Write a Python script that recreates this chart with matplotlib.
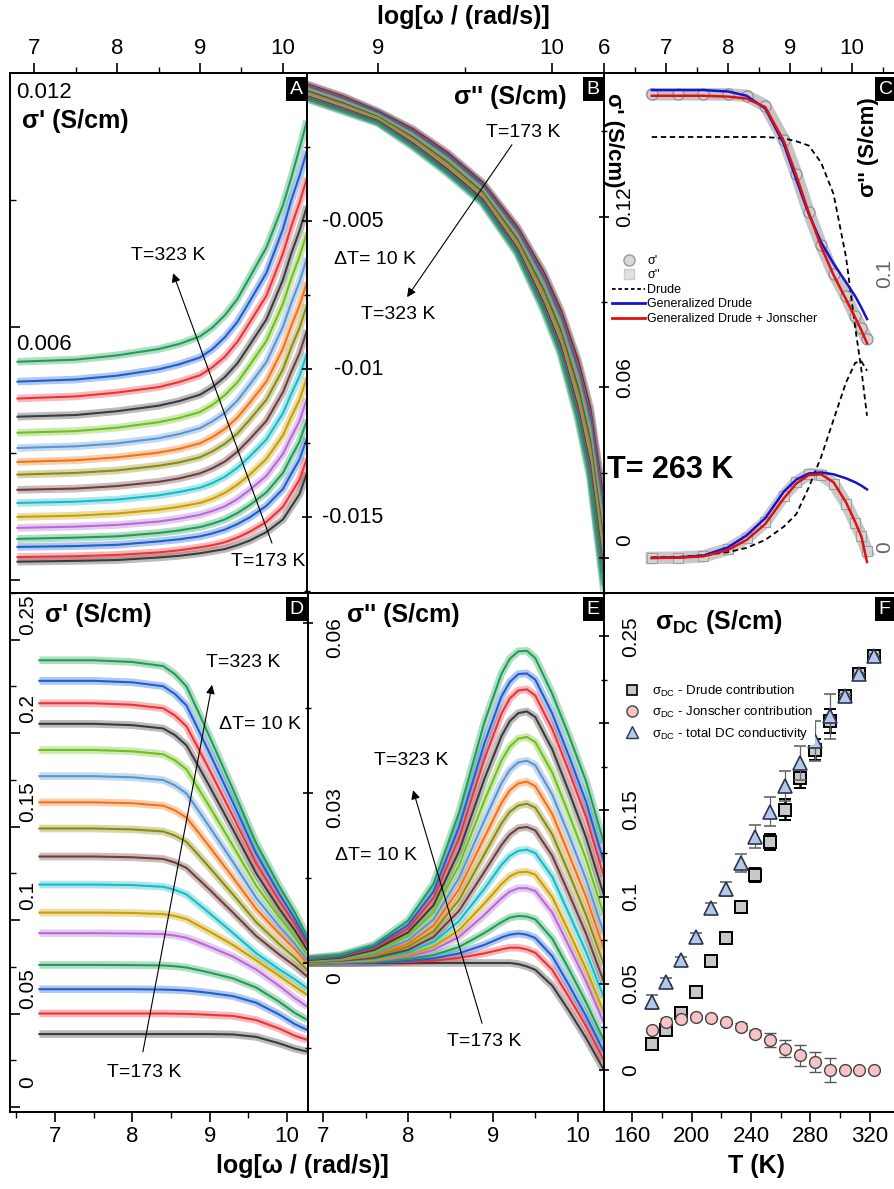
import numpy as np
import matplotlib
matplotlib.use("Agg")
import matplotlib.pyplot as plt
import matplotlib.transforms as mtransforms
from matplotlib import font_manager
from matplotlib.lines import Line2D
from matplotlib.ticker import MultipleLocator

# ---------------- data ----------------
TEMPS = [173, 183, 193, 203, 213, 223, 233, 243, 253, 263, 273, 283, 293, 303, 313, 323]
CURVE_COLORS = ["#3c3c3c", "#e8353a", "#1f5fd0", "#1f9e58", "#b86ad8", "#c9a000",
                "#16bcc6", "#6e3f3f", "#8c8c12", "#f07418", "#5a96d2", "#70c020",
                "#3c3c3c", "#e8353a", "#1f5fd0", "#1f9e58"]

# panel A: sigma' (low range), units of 1e-4 S/cm, one row per temperature (173 K first)
A_LOGW = [6.8, 7.5, 8.0, 8.5, 8.75, 9.0, 9.15, 9.3, 9.45, 9.6, 9.8, 10.0, 10.1, 10.2, 10.29]
A_SIG1 = [
    [4.4, 4.6, 4.8, 5.4, 5.8, 6.4, 6.9, 7.4, 8.3, 9.4, 11.4, 14.4, 17.4, 20.4, 25.4],
    [5.5, 5.7, 6.0, 6.6, 7.1, 7.8, 8.3, 9.0, 10.1, 11.5, 13.8, 17.4, 20.6, 23.8, 28.9],
    [7.9, 8.1, 8.4, 9.2, 9.7, 10.4, 11.1, 12.0, 13.3, 14.9, 17.6, 21.6, 25.2, 28.6, 33.7],
    [9.8, 10.1, 10.4, 11.2, 11.8, 12.6, 13.4, 14.4, 15.9, 17.8, 20.8, 25.4, 29.2, 32.8, 38.0],
    [12.4, 12.7, 13.1, 13.9, 14.6, 15.5, 16.4, 17.5, 19.2, 21.4, 24.7, 29.9, 33.9, 37.7, 43.0],
    [15.0, 15.3, 15.8, 16.7, 17.4, 18.3, 19.3, 20.7, 22.6, 25.0, 28.7, 34.3, 38.7, 42.7, 48.0],
    [18.3, 18.6, 19.1, 20.1, 20.9, 21.9, 23.0, 24.5, 26.6, 29.3, 33.3, 39.5, 44.1, 48.3, 53.7],
    [21.4, 21.7, 22.3, 23.3, 24.1, 25.3, 26.5, 28.1, 30.4, 33.4, 37.7, 44.5, 49.3, 53.7, 59.2],
    [25.0, 25.4, 26.0, 27.1, 27.9, 29.1, 30.5, 32.3, 34.7, 38.0, 42.7, 49.9, 55.1, 59.7, 65.2],
    [28.0, 28.4, 29.1, 30.2, 31.1, 32.4, 33.9, 35.8, 38.5, 42.0, 47.0, 54.8, 60.2, 65.0, 70.6],
    [31.3, 31.7, 32.4, 33.6, 34.6, 36.0, 37.6, 39.6, 42.5, 46.3, 51.6, 60.0, 65.6, 70.6, 76.3],
    [34.9, 35.3, 36.1, 37.4, 38.4, 39.8, 41.5, 43.8, 46.8, 50.9, 56.6, 65.4, 71.4, 76.6, 82.3],
    [38.7, 39.1, 40.0, 41.3, 42.4, 43.9, 45.7, 48.1, 51.3, 55.7, 61.7, 71.1, 77.3, 82.7, 88.5],
    [43.0, 43.5, 44.4, 45.7, 46.9, 48.5, 50.4, 52.9, 56.4, 61.0, 67.3, 77.3, 83.7, 89.3, 95.2],
    [47.0, 47.5, 48.4, 49.9, 51.1, 52.7, 54.7, 57.5, 61.1, 66.0, 72.7, 83.1, 89.9, 95.7, 101.6],
    [51.7, 52.2, 53.2, 54.7, 55.9, 57.7, 59.8, 62.7, 66.5, 71.7, 78.7, 88.7, 95.2, 102.2, 108.7],
]

# panel B: sigma'' (high freq), units of 1e-4 S/cm
B_LOGW = [8.55, 8.8, 9.0, 9.2, 9.4, 9.6, 9.8, 9.95, 10.05, 10.15, 10.22, 10.3]
B_SIG2 = [
    [-3.0, -8.0, -13.0, -19.0, -27.0, -37.0, -52.0, -67.0, -80.0, -97.0, -113.0, -145.0],
    [-3.3, -8.3, -13.3, -19.4, -27.5, -37.5, -52.6, -67.9, -81.0, -98.3, -114.6, -147.0],
    [-3.7, -8.7, -13.5, -19.8, -27.9, -37.9, -53.2, -68.7, -82.0, -99.7, -116.2, -149.0],
    [-4.0, -9.0, -13.8, -20.2, -28.4, -38.4, -53.8, -69.6, -83.0, -101.0, -117.8, -151.0],
    [-4.3, -9.3, -14.1, -20.6, -28.9, -38.9, -54.4, -70.5, -84.0, -102.3, -119.4, -153.0],
    [-4.7, -9.7, -14.3, -21.0, -29.3, -39.3, -55.0, -71.3, -85.0, -103.7, -121.0, -155.0],
    [-5.0, -10.0, -14.6, -21.4, -29.8, -39.8, -55.6, -72.2, -86.0, -105.0, -122.6, -157.0],
    [-5.3, -10.3, -14.9, -21.8, -30.3, -40.3, -56.2, -73.1, -87.0, -106.3, -124.2, -159.0],
    [-5.7, -10.7, -15.1, -22.2, -30.7, -40.7, -56.8, -73.9, -88.0, -107.7, -125.8, -161.0],
    [-6.0, -11.0, -15.4, -22.6, -31.2, -41.2, -57.4, -74.8, -89.0, -109.0, -127.4, -163.0],
    [-6.3, -11.3, -15.7, -23.0, -31.7, -41.7, -58.0, -75.7, -90.0, -110.3, -129.0, -165.0],
    [-6.7, -11.7, -15.9, -23.4, -32.1, -42.1, -58.6, -76.5, -91.0, -111.7, -130.6, -167.0],
    [-7.0, -12.0, -16.2, -23.8, -32.6, -42.6, -59.2, -77.4, -92.0, -113.0, -132.2, -169.0],
    [-7.3, -12.3, -16.5, -24.2, -33.1, -43.1, -59.8, -78.3, -93.0, -114.3, -133.8, -171.0],
    [-7.7, -12.7, -16.7, -24.6, -33.5, -43.5, -60.4, -79.1, -94.0, -115.7, -135.4, -173.0],
    [-8.0, -13.0, -17.0, -25.0, -34.0, -44.0, -61.0, -80.0, -95.0, -117.0, -137.0, -175.0],
]

# panel C: single temperature 263 K
C_LOGW = [6.77, 7.2, 7.6, 8.0, 8.3, 8.6, 8.9, 9.1, 9.3, 9.5, 9.7, 9.9, 10.05, 10.15, 10.24]
C_SIG1_DATA = [.163, .163, .163, .163, .1625, .159, .147, .135, .1215, .110, .100, .092, .085, .081, .077]
C_SIG1_GD = [.1645, .1645, .1645, .164, .1625, .158, .1455, .133, .121, .111, .1035, .097, .092, .088, .084]
C_SIG1_GDJ = [.1625, .1625, .1625, .1622, .1615, .1585, .1465, .1345, .1215, .1095, .0995, .091, .0845, .080, .0755]
C_SIG1_DRUDE = [.148, .148, .148, .148, .148, .148, .1475, .1465, .145, .139, .128, .106, .081, .066, .050]
C_SIG2_DATA = [0, .0001, .0006, .0033, .0075, .0135, .0235, .0285, .0315, .0313, .0280, .0205, .0132, .0082, .0025]
C_SIG2_GD = [0, .0002, .0009, .0040, .0085, .0150, .0250, .0295, .0318, .0322, .0315, .0300, .0285, .0272, .0258]
C_SIG2_GDJ = [0, .0001, .0006, .0030, .0068, .0128, .0225, .0280, .0312, .0315, .0285, .0210, .0135, .0080, -.0015]
C_SIG2_DRUDE = [.0002, .0004, .0010, .0022, .0038, .0068, .0118, .0165, .0265, .038, .052, .066, .0735, .074, .0705]

# panel D: sigma' (full range), S/cm
D_LOGW = [6.8, 7.5, 8.0, 8.4, 8.55, 8.7, 8.85, 9.0, 9.3, 9.6, 9.9, 10.1, 10.26]
D_SIG1 = [
    [.039, .039, .039, .039, .039, .039, .039, .039, .0388, .0375, .034, .0312, .0296],
    [.050, .050, .050, .050, .0499, .0498, .0496, .0493, .0487, .0465, .0419, .0381, .0359],
    [.063, .063, .063, .0628, .0626, .0623, .0617, .061, .0593, .0558, .0494, .0443, .0412],
    [.076, .076, .0759, .0757, .0753, .0746, .0733, .0719, .0688, .0639, .0562, .0503, .0466],
    [.093, .093, .0928, .0925, .0917, .0905, .0882, .0857, .0805, .0735, .0647, .0582, .0537],
    [.104, .104, .1038, .1032, .1022, .1005, .0972, .0938, .0867, .0785, .0701, .0644, .060],
    [.119, .119, .1187, .1178, .1162, .1137, .1087, .1036, .0931, .0823, .0736, .0683, .0635],
    [.134, .134, .1336, .1327, .1308, .1279, .1221, .1162, .104, .0915, .0815, .0754, .0698],
    [.149, .149, .1485, .1474, .1452, .1418, .135, .128, .1137, .0989, .0871, .0799, .0733],
    [.163, .163, .1625, .1612, .1587, .1548, .1471, .1391, .1228, .106, .0926, .0844, .0769],
    [.177, .177, .1764, .1749, .1721, .1677, .1588, .1497, .1311, .1119, .0966, .0873, .0787],
    [.191, .191, .1903, .1887, .1855, .1806, .1707, .1605, .1398, .1184, .1014, .0909, .0814],
    [.205, .205, .2043, .2025, .199, .1935, .1826, .1714, .1485, .125, .106, .0945, .084],
    [.216, .216, .2152, .2133, .2095, .2037, .1921, .1801, .1556, .1304, .1102, .098, .0867],
    [.228, .228, .2272, .2251, .221, .2148, .2022, .1892, .1629, .1357, .1139, .1006, .0885],
    [.239, .239, .2381, .2359, .2316, .225, .2117, .1979, .170, .1412, .1181, .1041, .0912],
]

# panel E: sigma'' (full range), S/cm
E_LOGW = [6.8, 7.2, 7.6, 8.0, 8.3, 8.6, 8.9, 9.1, 9.2, 9.3, 9.4, 9.5, 9.7, 9.9, 10.1, 10.31]
E_SIG2 = [
    [0, 0, 0, 0, 0, 0, 0, 0, 0, -.0002, -.0006, -.0012, -.0040, -.0085, -.0133, -.0189],
    [0, 0, .0001, .0002, .0004, .0009, .0017, .0024, .0027, .0027, .0024, .0018, -.0012, -.0061, -.0112, -.0172],
    [0, 0, .0001, .0004, .0008, .0017, .0032, .0045, .0050, .0052, .0050, .0044, .0012, -.0040, -.0094, -.0157],
    [0, .0001, .0002, .0007, .0014, .0028, .0053, .0072, .0080, .0083, .0082, .0077, .0043, -.0012, -.0070, -.0137],
    [.0001, .0001, .0004, .0011, .0023, .0046, .0085, .0114, .0126, .0132, .0132, .0127, .0089, .0029, -.0033, -.0106],
    [.0001, .0002, .0005, .0014, .0029, .0058, .0105, .0139, .0153, .0160, .0161, .0156, .0116, .0054, -.0011, -.0087],
    [.0001, .0003, .0007, .0019, .0037, .0074, .0131, .0173, .0189, .0198, .0200, .0194, .0152, .0086, .0019, -.0061],
    [.0002, .0004, .0009, .0023, .0046, .0092, .0161, .0208, .0227, .0238, .0240, .0234, .0189, .0121, .0051, -.0034],
    [.0002, .0005, .0012, .0029, .0056, .0111, .0192, .0246, .0267, .0278, .0281, .0274, .0227, .0157, .0084, -.0004],
    [.0003, .0006, .0014, .0034, .0066, .0130, .0222, .0282, .0305, .0317, .0320, .0312, .0263, .0190, .0116, .0024],
    [.0004, .0007, .0016, .0040, .0077, .0150, .0252, .0317, .0341, .0354, .0357, .0349, .0297, .0224, .0147, .0052],
    [.0004, .0008, .0019, .0047, .0089, .0172, .0287, .0357, .0382, .0396, .0399, .0390, .0336, .0261, .0183, .0084],
    [.0005, .0009, .0023, .0054, .0102, .0197, .0325, .0400, .0427, .0441, .0444, .0434, .0377, .0301, .0221, .0119],
    [.0006, .0011, .0026, .0061, .0115, .0220, .0360, .0440, .0467, .0481, .0483, .0472, .0413, .0337, .0257, .0152],
    [.0007, .0012, .0029, .0067, .0126, .0240, .0388, .0470, .0496, .0510, .0511, .0500, .0440, .0364, .0284, .0178],
    [.0008, .0014, .0032, .0075, .0140, .0265, .0425, .0510, .0537, .0550, .0551, .0538, .0475, .0400, .0320, .0211],
]

# panel F: DC conductivity vs temperature
F_DRUDE = [.0154, .0231, .0331, .0452, .0631, .076, .0939, .1126, .1315, .1501, .1684, .1848, .2011, .2159, .2281, .2386]
F_DRUDE_ERR = [.001, .003, .003, .002, .002, .002, .002, .004, .0045, .006, .0055, .006, .007, .0025, .002, .002]
F_JONSCHER = [.0231, .0279, .0298, .0308, .0304, .0279, .025, .0212, .0173, .0125, .0087, .0048, 0, 0, 0, 0]
F_JONSCHER_ERR = [.001, .002, .002, .001, .001, .001, .002, .002, .004, .005, .006, .006, .007, 0, 0, 0]
F_TOTAL = [.0394, .051, .0635, .077, .0933, .1045, .1193, .1347, .1491, .1636, .1771, .1896, .204, .2159, .2281, .2386]
F_TOTAL_ERR = [.0039, .002, .002, .002, .003, .0038, .0052, .0067, .0081, .0087, .0096, .0115, .013, .001, .001, .001]

# ---------------- style ----------------
_have = {f.name for f in font_manager.fontManager.ttflist}
NARROW = "Liberation Sans Narrow" if "Liberation Sans Narrow" in _have else "Liberation Sans"
plt.rcParams["font.family"] = ["Liberation Sans", "DejaVu Sans"]
plt.rcParams["mathtext.fontset"] = "custom"
plt.rcParams["mathtext.rm"] = "Liberation Sans"
plt.rcParams["mathtext.bf"] = "Liberation Sans:bold"
plt.rcParams["mathtext.it"] = "Liberation Sans:italic"
plt.rcParams["axes.linewidth"] = 1.4

W, H = 894, 1189
fig = plt.figure(figsize=(W / 100, H / 100), dpi=100)


def box(l, t, r, b):
    return fig.add_axes([l / W, 1 - b / H, (r - l) / W, (b - t) / H])


axA = box(10, 73, 307, 593)
axB = box(307, 73, 604, 593)
axC = box(604, 73, 903, 593)
axD = box(10, 593, 308, 1112)
axE = box(308, 593, 604, 1112)
axF = box(604, 593, 901, 1112)


def family(ax, x, rows, scale=1.0):
    ys = [np.asarray(r, dtype=float) * scale for r in rows]
    for y, c in zip(ys, CURVE_COLORS):
        ax.plot(x, y, color=c, lw=5.5, alpha=0.35, solid_capstyle="butt", solid_joinstyle="round")
    for y, c in zip(ys, CURVE_COLORS):
        ax.plot(x, y, color=c, lw=1.5, solid_joinstyle="round")


def xticks(ax, where, major, minor, labels=True):
    ax.xaxis.set_major_locator(MultipleLocator(major))
    ax.xaxis.set_minor_locator(MultipleLocator(minor))
    top = where == "top"
    ax.tick_params(axis="x", which="both", top=top, bottom=not top, labeltop=top and labels,
                   labelbottom=(not top) and labels, direction="out")
    ax.tick_params(axis="x", which="major", length=7, width=1.2, labelsize=16, pad=3,
                   labelfontfamily=NARROW)
    ax.tick_params(axis="x", which="minor", length=4, width=1.0)


def yticks(ax, major, minor, direction):
    ax.yaxis.set_major_locator(MultipleLocator(major))
    ax.yaxis.set_minor_locator(MultipleLocator(minor))
    ax.tick_params(axis="y", which="both", left=True, right=False, labelleft=False,
                   direction=direction)
    ax.tick_params(axis="y", which="major", length=7, width=1.2)
    ax.tick_params(axis="y", which="minor", length=4, width=1.0)


def ylab(ax, xfrac, val, text, dy=0, **kw):
    # dy: pixels downward from the tick position
    tr = mtransforms.offset_copy(ax.get_yaxis_transform(), fig=fig, y=-dy * 0.72, units="points")
    ax.text(xfrac, val, text, transform=tr, **kw)


def letter(ax, s, xr=0.985):
    ax.text(xr, 0.985, s, transform=ax.transAxes, ha="right", va="top", color="white",
            fontsize=14, zorder=20,
            bbox=dict(boxstyle="square,pad=0.18", fc="black", ec="none"))


def arrow(ax, tail, head):
    ax.annotate("", xy=head, xytext=tail, xycoords="axes fraction", textcoords="axes fraction",
                arrowprops=dict(arrowstyle="-|>", color="black", lw=0.8, mutation_scale=13,
                                shrinkA=0, shrinkB=0))


def note(ax, x, y, s, **kw):
    kw.setdefault("fontsize", 14)
    ax.text(x, y, s, transform=ax.transAxes, ha="center", va="center", **kw)


# ---------------- A ----------------
family(axA, A_LOGW, A_SIG1, 1e-4)
axA.set_xlim(6.71, 10.29)
axA.set_ylim(-0.0003, 0.012)
xticks(axA, "top", 1, 0.5)
yticks(axA, 0.006, 0.003, "in")
ylab(axA, 0.02, 0.012, "0.012", dy=19, ha="left", va="center", fontsize=16)
ylab(axA, 0.02, 0.006, "0.006", dy=18, ha="left", va="center", fontsize=16)
axA.text(0.04, 0.908, "σ' (S/cm)", transform=axA.transAxes, ha="left", va="center",
         fontsize=18, fontweight="bold")
note(axA, 0.532, 0.650, "T=323 K")
note(axA, 0.869, 0.060, "T=173 K")
arrow(axA, (0.882, 0.096), (0.549, 0.615))
letter(axA, "A")

# ---------------- B ----------------
family(axB, B_LOGW, B_SIG2, 1e-4)
axB.set_xlim(8.59, 10.30)
axB.set_ylim(-0.01756, 0.0)
xticks(axB, "top", 1, 0.5)
yticks(axB, 0.005, 0.0025, "inout")
for v, s in [(-0.005, "-0.005"), (-0.01, "-0.01"), (-0.015, "-0.015")]:
    ylab(axB, 0.256, v, s, ha="right", va="center", fontsize=15.5)
axB.text(0.875, 0.954, "σ'' (S/cm)", transform=axB.transAxes, ha="right", va="center",
         fontsize=18, fontweight="bold")
note(axB, 0.727, 0.885, "T=173 K")
note(axB, 0.229, 0.642, "ΔT= 10 K")
note(axB, 0.306, 0.535, "T=323 K")
arrow(axB, (0.690, 0.862), (0.337, 0.569))
letter(axB, "B")

# ---------------- C ----------------
axC2 = axC.twinx()
axC.plot(C_LOGW, C_SIG1_DATA, color="#c4c4c4", lw=9, solid_capstyle="round", zorder=1)
axC.plot(C_LOGW, C_SIG1_DATA, "o", ms=8, mfc="#d0d0d0", mec="#8a8a8a", mew=0.8, zorder=2)
axC.plot(C_LOGW, C_SIG1_DRUDE, color="black", ls=(0, (3, 2)), lw=1.3, zorder=3)
axC.plot(C_LOGW, C_SIG1_GD, color="#1515d0", lw=1.8, zorder=4)
axC.plot(C_LOGW, C_SIG1_GDJ, color="#e01010", lw=1.8, zorder=5)
axC2.plot(C_LOGW, C_SIG2_DATA, color="#c8c8c8", lw=9, zorder=1)
axC2.plot(C_LOGW, C_SIG2_DATA, "s", ms=7, mfc="#d4d4d4", mec="#a0a0a0", mew=0.8, zorder=2)
axC2.plot(C_LOGW, C_SIG2_DRUDE, color="black", ls=(0, (3, 2)), lw=1.3, zorder=3)
axC2.plot(C_LOGW, C_SIG2_GD, color="#1515d0", lw=1.8, zorder=4)
axC2.plot(C_LOGW, C_SIG2_GDJ, color="#e01010", lw=1.8, zorder=5)
axC.set_xlim(6.0, 10.82)
axC.set_ylim(-0.0123, 0.1705)
axC2.set_ylim(-0.0132, 0.1826)
axC2.tick_params(axis="y", which="both", right=False, labelright=False)
xticks(axC, "top", 1, 0.5)
yticks(axC, 0.06, 0.03, "inout")
for v, s, d in [(0.12, "0.12", -10), (0.06, "0.06", -10), (0.0, "0", -18)]:
    ylab(axC, 0.07, v, s, dy=d, ha="center", va="center", rotation=90, fontsize=15)
for v, s, d in [(0.1, "0.1", -19), (0.0, "0", -11)]:
    ylab(axC2, 0.94, v, s, dy=d, ha="center", va="center", rotation=90, fontsize=15,
         color="#666666")
axC.text(0.033, 0.871, "σ' (S/cm)", transform=axC.transAxes, ha="center", va="center",
         rotation=270, fontsize=16, fontweight="bold")
axC.text(0.885, 0.858, "σ'' (S/cm)", transform=axC.transAxes, ha="center", va="center",
         rotation=90, fontsize=16, fontweight="bold")
axC.text(0.01, 0.237, "T= 263 K", transform=axC.transAxes, ha="left", va="center",
         fontsize=22, fontweight="bold")
handles = [
    Line2D([], [], ls="none", marker="o", ms=8, mfc="#d8d8d8", mec="#999999"),
    Line2D([], [], ls="none", marker="s", ms=7, mfc="#e0e0e0", mec="#cccccc"),
    Line2D([], [], color="black", ls=(0, (2, 1.5)), lw=1.3),
    Line2D([], [], color="#1515d0", lw=2),
    Line2D([], [], color="#e01010", lw=2),
]
axC2.legend(handles, ["σ'", "σ''", "Drude", "Generalized Drude", "Generalized Drude + Jonscher"],
            loc="upper left", bbox_to_anchor=(0.02, 0.655), frameon=False, fontsize=9,
            handlelength=2.6, handletextpad=0.2, labelspacing=0.2, borderpad=0.2,
            borderaxespad=0.0)
letter(axC, "C", xr=0.965)

# ---------------- D ----------------
family(axD, D_LOGW, D_SIG1)
axD.set_xlim(6.42, 10.27)
axD.set_ylim(-0.0027, 0.275)
xticks(axD, "bottom", 1, 0.5)
yticks(axD, 0.05, 0.025, "in")
for v, s in [(0.25, "0.25"), (0.2, "0.2"), (0.15, "0.15"), (0.1, "0.1"), (0.05, "0.05"), (0.0, "0")]:
    ylab(axD, 0.06, v, s, dy=-25, ha="center", va="center", rotation=90, fontsize=15)
axD.text(0.117, 0.958, "σ' (S/cm)", transform=axD.transAxes, ha="left", va="center",
         fontsize=18, fontweight="bold")
note(axD, 0.782, 0.867, "T=323 K")
note(axD, 0.839, 0.746, "ΔT= 10 K")
note(axD, 0.450, 0.077, "T=173 K")
arrow(axD, (0.446, 0.116), (0.678, 0.823))
letter(axD, "D")

# ---------------- E ----------------
family(axE, E_LOGW, E_SIG2)
axE.set_xlim(6.82, 10.31)
axE.set_ylim(-0.0263, 0.0653)
xticks(axE, "bottom", 1, 0.5)
yticks(axE, 0.03, 0.015, "inout")
for v, s in [(0.06, "0.06"), (0.03, "0.03"), (0.0, "0")]:
    ylab(axE, 0.091, v, s, dy=15, ha="center", va="center", rotation=90, fontsize=15)
axE.text(0.132, 0.958, "σ'' (S/cm)", transform=axE.transAxes, ha="left", va="center",
         fontsize=18, fontweight="bold")
note(axE, 0.348, 0.678, "T=323 K")
note(axE, 0.230, 0.495, "ΔT= 10 K")
note(axE, 0.595, 0.135, "T=173 K")
arrow(axE, (0.588, 0.171), (0.355, 0.620))
letter(axE, "E")

# ---------------- F ----------------
axF.errorbar(TEMPS, F_DRUDE, yerr=F_DRUDE_ERR, fmt="s", ms=8, mfc="#c8c8c8", mec="black",
             mew=1.4, ecolor="black", elinewidth=1.8, capsize=4, capthick=1.8, zorder=3)
axF.errorbar(TEMPS, F_JONSCHER, yerr=F_JONSCHER_ERR, fmt="o", ms=8.5, mfc="#f6c4c6",
             mec="#444444", mew=1.0, ecolor="#555555", elinewidth=0.9, capsize=4, zorder=4)
axF.errorbar(TEMPS, F_TOTAL, yerr=F_TOTAL_ERR, fmt="^", ms=9.5, mfc="#b4c8ea", mec="#2a3550",
             mew=1.2, ecolor="#666666", elinewidth=0.9, capsize=4, zorder=5)
axF.set_xlim(141, 341)
axF.set_ylim(-0.024, 0.275)
xticks(axF, "bottom", 40, 20)
yticks(axF, 0.05, 0.025, "inout")
for v, s in [(0.25, "0.25"), (0.2, "0.2"), (0.15, "0.15"), (0.1, "0.1"), (0.05, "0.05"), (0.0, "0")]:
    ylab(axF, 0.091, v, s, ha="center", va="center", rotation=90, fontsize=15)
axF.text(0.172, 0.944, "σ$_{\\mathbf{DC}}$ (S/cm)", transform=axF.transAxes, ha="left",
         va="center", fontsize=18, fontweight="bold")
hF = [
    Line2D([], [], ls="none", marker="s", ms=7, mfc="#c8c8c8", mec="black", mew=1.2),
    Line2D([], [], ls="none", marker="o", ms=8, mfc="#f6c4c6", mec="#444444"),
    Line2D([], [], ls="none", marker="^", ms=9, mfc="#b4c8ea", mec="#2a3550"),
]
legF = axF.legend(hF, ["σ$_{\\mathrm{DC}}$ - Drude contribution",
                       "σ$_{\\mathrm{DC}}$ - Jonscher contribution",
                       "σ$_{\\mathrm{DC}}$ - total DC conductivity"],
                  loc="upper left", bbox_to_anchor=(0.04, 0.83), frameon=True, fontsize=9.5,
                  handletextpad=0.5, labelspacing=0.45, borderpad=0.2, borderaxespad=0.0)
legF.get_frame().set_edgecolor("none")
legF.get_frame().set_alpha(1.0)
legF.set_zorder(10)
letter(axF, "F", xr=0.965)

# ---------------- shared axis titles ----------------
fig.text(463 / W, 1 - 17 / H, "log[ω / (rad/s)]", ha="center", va="center", fontsize=18,
         fontweight="bold", family=NARROW)
fig.text(302 / W, 1 - 1166 / H, "log[ω / (rad/s)]", ha="center", va="center", fontsize=18,
         fontweight="bold", family=NARROW)
fig.text(757 / W, 1 - 1166 / H, "T (K)", ha="center", va="center", fontsize=18,
         fontweight="bold", family=NARROW)

fig.savefig("out.png", dpi=100)
